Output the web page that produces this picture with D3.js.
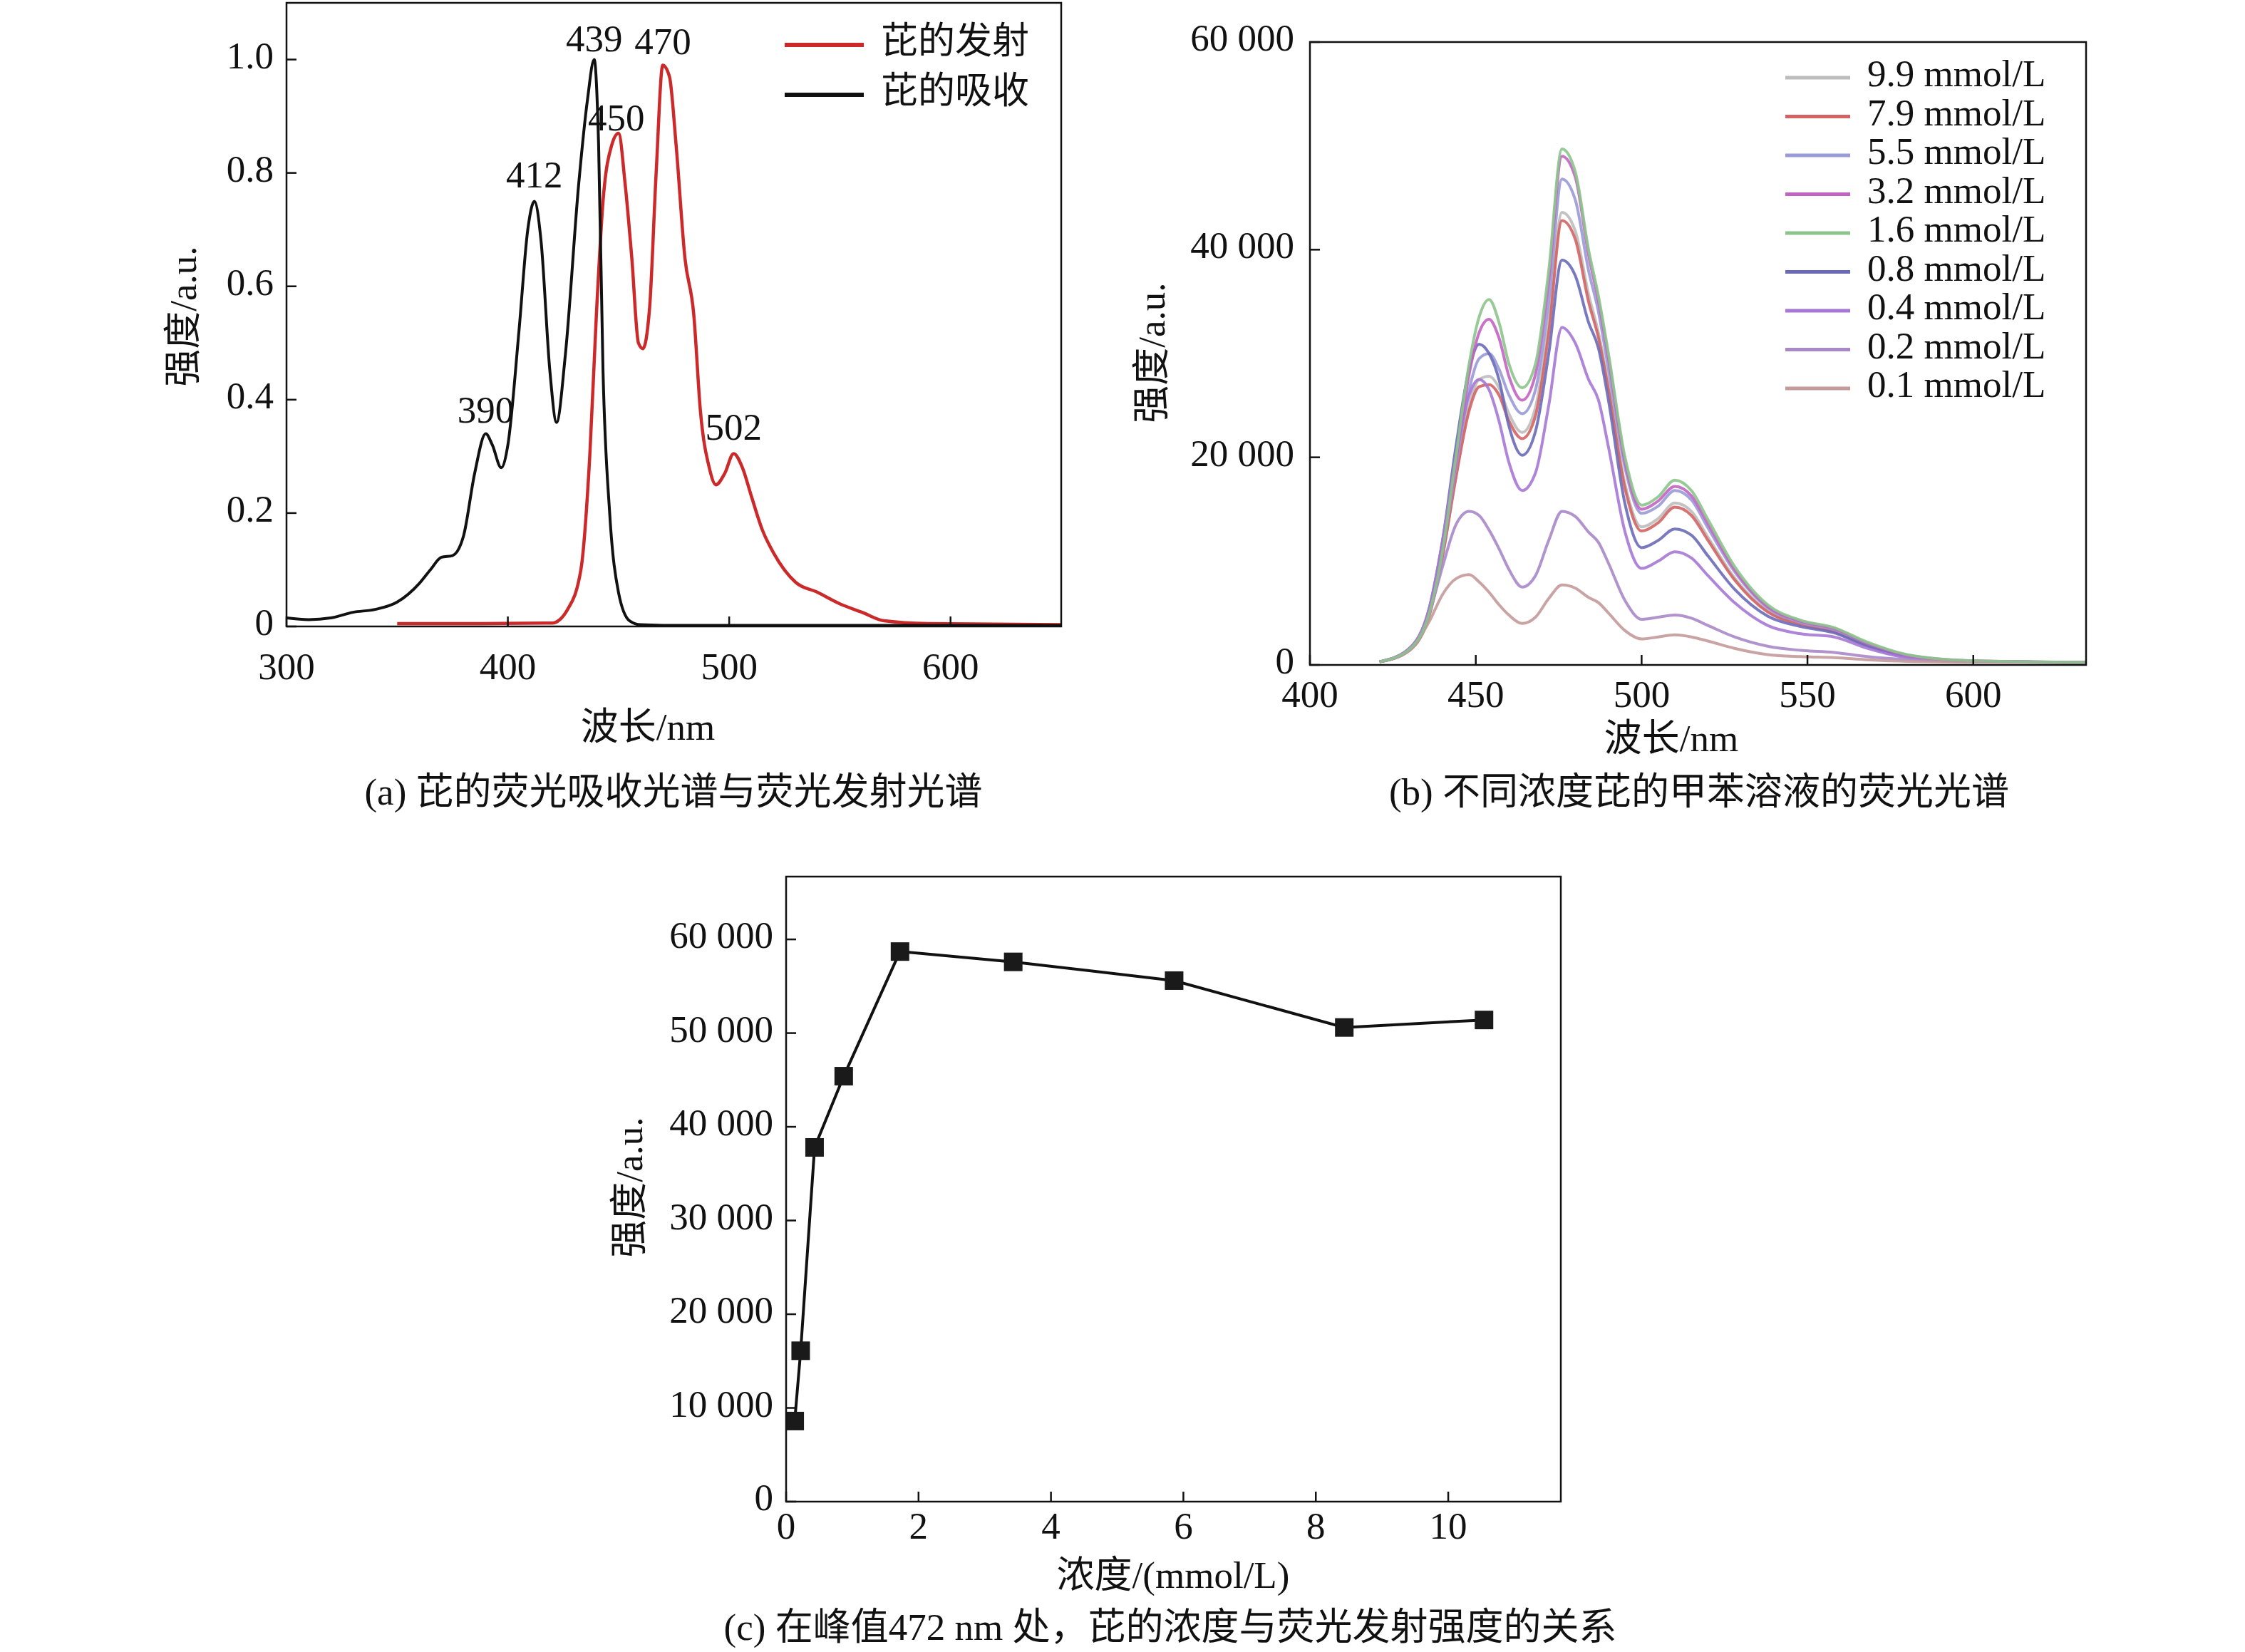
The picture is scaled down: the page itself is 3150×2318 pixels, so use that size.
<!DOCTYPE html>
<html><head><meta charset="utf-8">
<script src="https://cdn.jsdelivr.net/npm/d3@7"></script>
<style>body{margin:0;background:#fff}svg text{font-family:"Liberation Serif","Noto Sans CJK SC",serif;fill:#111}</style>
</head><body><svg id="c" width="3150" height="2318"></svg>
<script>
// ---- Panel (a) data ----
const absWl  = [300,310,320,330,340,350,360,365,370,375,380,385,390,393,397,400,405,409,412,415,419,422,426,432,436,439,441,443,446,450,455,460,470,650];
const absVal = [0.015,0.012,0.015,0.025,0.03,0.043,0.076,0.1,0.122,0.125,0.16,0.27,0.34,0.32,0.28,0.32,0.52,0.70,0.75,0.68,0.45,0.36,0.48,0.78,0.93,1.0,0.85,0.45,0.2,0.06,0.01,0.003,0.002,0.002];
const emWl  = [350,380,420,427,433,437,440,443,447,450,453,456,459,461,464,467,470,473,476,480,484,487,491,494,498,502,506,510,515,520,530,540,550,560,570,590,650];
const emVal = [0.005,0.005,0.006,0.03,0.1,0.3,0.55,0.75,0.85,0.87,0.78,0.65,0.5,0.49,0.56,0.8,0.99,0.97,0.85,0.65,0.55,0.38,0.28,0.25,0.27,0.305,0.28,0.23,0.17,0.13,0.078,0.06,0.04,0.025,0.01,0.005,0.003];
const peakLabels = [["439",439,1.03],["470",470,1.025],["450",449,0.89],["412",412,0.79],["390",390,0.375],["502",502,0.345]];
const legendA = [["芘的发射","#cc2a2a"],["芘的吸收","#111"]];
// ---- Panel (b) data ----
const wlB = [421,430,436,440,444,448,451,454,457,460,464,468,472,476,480,484,487,490,495,500,505,510,515,520,528,538,548,558,568,580,600,634];
const concLabels = ["9.9 mmol/L","7.9 mmol/L","5.5 mmol/L","3.2 mmol/L","1.6 mmol/L","0.8 mmol/L","0.4 mmol/L","0.2 mmol/L","0.1 mmol/L"];
const concColors = ["#bdbdbd","#d46464","#9a9ad8","#c264c2","#8cc48c","#6a6ab8","#a678d6","#a988c8","#c49a9a"];
const s99 = [300,1400,4800,10500,18200,25000,27500,27800,26700,24200,22400,24800,33000,43600,41800,35700,32000,27000,17400,13300,14100,15600,14800,12300,8400,5200,4000,3300,1900,850,360,250];
const s79 = [300,1400,4800,10500,18000,24500,26800,27000,26000,23500,21800,24000,32000,42800,41000,35000,31500,26500,17000,12900,13700,15200,14400,12000,8200,5100,3900,3200,1900,850,360,250];
const s55 = [300,1500,5000,11000,19000,26500,29500,30000,28500,26000,24200,26500,35000,46800,44800,38000,34000,28500,19000,14600,15300,16800,15900,13200,9000,5500,4100,3400,2000,900,380,250];
const s32 = [300,1500,5000,11000,19500,28000,32000,33300,31500,27800,25500,28000,37000,49000,47000,39500,35000,29500,19500,15000,15800,17200,16300,13600,9200,5600,4200,3500,2100,950,400,250];
const s16 = [300,1500,5000,11000,20000,29000,33500,35200,33000,29000,26700,29000,38000,49700,47500,40000,35500,30000,20000,15400,16200,17800,16800,14000,9500,5800,4300,3600,2200,1000,400,250];
const s08 = [300,1600,5500,12000,21000,28500,30900,30000,27500,23000,20200,22500,30000,39000,37500,33000,30500,25500,15500,11300,12000,13100,12500,10500,7300,4700,3700,3100,1800,800,350,250];
const s04 = [300,1600,5500,12000,20000,26000,27500,26500,23500,19500,16800,18500,25000,32500,31000,27500,25500,21000,12800,9300,10000,10900,10300,8600,6000,3800,3000,2700,1600,700,320,250];
const s02 = [300,1500,5000,9500,13500,14800,14400,13000,11200,9200,7500,8600,12000,14800,14300,12800,11800,9800,6200,4400,4600,4800,4500,3800,2700,1800,1400,1200,800,500,300,250];
const s01 = [300,1400,4200,6800,8300,8700,8000,7000,5800,4800,4000,4600,6400,7700,7400,6500,6000,5000,3300,2500,2700,2900,2700,2300,1600,1000,800,700,500,350,280,250];
const seriesB = [s99,s79,s55,s32,s16,s08,s04,s02,s01];
const drawOrderB = [0,1,2,5,6,7,8,3,4];
// ---- Panel (c) data ----
const concC = [0.13,0.22,0.43,0.87,1.72,3.43,5.86,8.43,10.54];
const intenC = [8600,16100,37800,45400,58700,57600,55600,50600,51400];

const svg = d3.select("#c");
const fmt = d => d3.format(",")(d).replace(/,/g," ");
const FS = 53;

function frame(x0,y0,x1,y1){
  svg.append("rect").attr("x",x0).attr("y",y0).attr("width",x1-x0).attr("height",y1-y0).attr("fill","none").attr("stroke","#111").attr("stroke-width",2.5);
}
function axes(x,y,xt,yt,yfmt,xfmt,x0,y0,x1,y1,xlabY,ylabX){
  const g=svg.append("g");
  xt.forEach(t=>{
    g.append("line").attr("x1",x(t)).attr("x2",x(t)).attr("y1",y1).attr("y2",y1-14).attr("stroke","#111").attr("stroke-width",2.5);
    g.append("text").attr("x",x(t)).attr("y",xlabY).attr("text-anchor","middle").attr("dominant-baseline","middle").attr("font-size",FS).text(xfmt(t));
  });
  yt.forEach(t=>{
    g.append("line").attr("x1",x0).attr("x2",x0+14).attr("y1",y(t)).attr("y2",y(t)).attr("stroke","#111").attr("stroke-width",2.5);
    g.append("text").attr("x",ylabX).attr("y",y(t)).attr("text-anchor","end").attr("dominant-baseline","middle").attr("font-size",FS).text(yfmt(t));
  });
}
function text(x,y,s,opt={}){
  const t=svg.append("text").attr("x",x).attr("y",y).attr("text-anchor",opt.anchor||"middle").attr("dominant-baseline","middle").attr("font-size",opt.fs||FS).text(s);
  if(opt.rot) t.attr("transform",`rotate(-90,${x},${y})`);
  return t;
}

// ---- Panel (a) ----
{
  const x0=402,x1=1489,y0=4,y1=879;
  const x=d3.scaleLinear().domain([300,650]).range([x0,x1]);
  const y=d3.scaleLinear().domain([0,1.1]).range([y1,y0]);
  const line=d3.line().x(d=>x(d[0])).y(d=>y(d[1])).curve(d3.curveMonotoneX);
  svg.append("path").datum(emWl.map((w,i)=>[w,emVal[i]])).attr("d",line).attr("fill","none").attr("stroke","#cc2a2a").attr("stroke-width",4.5);
  svg.append("path").datum(absWl.map((w,i)=>[w,absVal[i]])).attr("d",line).attr("fill","none").attr("stroke","#111").attr("stroke-width",4);
  frame(x0,y0,x1,y1);
  axes(x,y,[300,400,500,600],[0,0.2,0.4,0.6,0.8,1.0],d=>d===0?"0":d3.format(".1f")(d),d=>d,x0,y0,x1,y1,941,384);
  peakLabels.forEach(p=>text(x(p[1]),y(p[2]),p[0]));
  legendA.forEach((l,i)=>{
    const yy=63+i*70;
    svg.append("line").attr("x1",1101).attr("x2",1212).attr("y1",yy).attr("y2",yy).attr("stroke",l[1]).attr("stroke-width",6);
    text(1236,yy,l[0],{anchor:"start",fs:52});
  });
  text(909,1026,"波长/nm");
  text(263,444,"强度/a.u.",{rot:true});
  text(945,1117,"(a) 芘的荧光吸收光谱与荧光发射光谱");
}
// ---- Panel (b) ----
{
  const x0=1838,x1=2927,y0=59,y1=933;
  const x=d3.scaleLinear().domain([400,634]).range([x0,x1]);
  const y=d3.scaleLinear().domain([0,60000]).range([y1,y0]);
  const line=d3.line().x(d=>x(d[0])).y(d=>y(d[1])).curve(d3.curveMonotoneX);
  drawOrderB.forEach(k=>{
    svg.append("path").datum(wlB.map((w,i)=>[w,seriesB[k][i]])).attr("d",line).attr("fill","none").attr("stroke",concColors[k]).attr("stroke-width",4).attr("opacity",0.9);
  });
  frame(x0,y0,x1,y1);
  axes(x,y,[400,450,500,550,600],[0,20000,40000,60000],fmt,d=>d,x0,y0,x1,y1,980,1816);
  concLabels.forEach((l,i)=>{
    const yy=109+i*54.5;
    svg.append("line").attr("x1",2505).attr("x2",2596).attr("y1",yy).attr("y2",yy).attr("stroke",concColors[i]).attr("stroke-width",5);
    text(2620,yy,l,{anchor:"start"});
  });
  text(2345,1042,"波长/nm");
  text(1622,495,"强度/a.u.",{rot:true});
  text(2384,1117,"(b) 不同浓度芘的甲苯溶液的荧光光谱");
}
// ---- Panel (c) ----
{
  const x0=1103,x1=2190,y0=1230,y1=2107;
  const x=d3.scaleLinear().domain([0,11.7]).range([x0,x1]);
  const y=d3.scaleLinear().domain([0,66700]).range([y1,y0]);
  const pts=concC.map((c,i)=>[c,intenC[i]]);
  svg.append("path").datum(pts).attr("d",d3.line().x(d=>x(d[0])).y(d=>y(d[1]))).attr("fill","none").attr("stroke","#111").attr("stroke-width",4);
  svg.selectAll("rect.m").data(pts).enter().append("rect").attr("class","m")
    .attr("x",d=>x(d[0])-13).attr("y",d=>y(d[1])-13).attr("width",26).attr("height",26).attr("fill","#1a1a1a");
  frame(x0,y0,x1,y1);
  axes(x,y,[0,2,4,6,8,10],[0,10000,20000,30000,40000,50000,60000],fmt,d=>d,x0,y0,x1,y1,2147,1085);
  text(1646,2216,"浓度/(mmol/L)");
  text(889,1666,"强度/a.u.",{rot:true});
  text(1642,2289,"(c) 在峰值472 nm 处，芘的浓度与荧光发射强度的关系");
}
</script></body></html>
